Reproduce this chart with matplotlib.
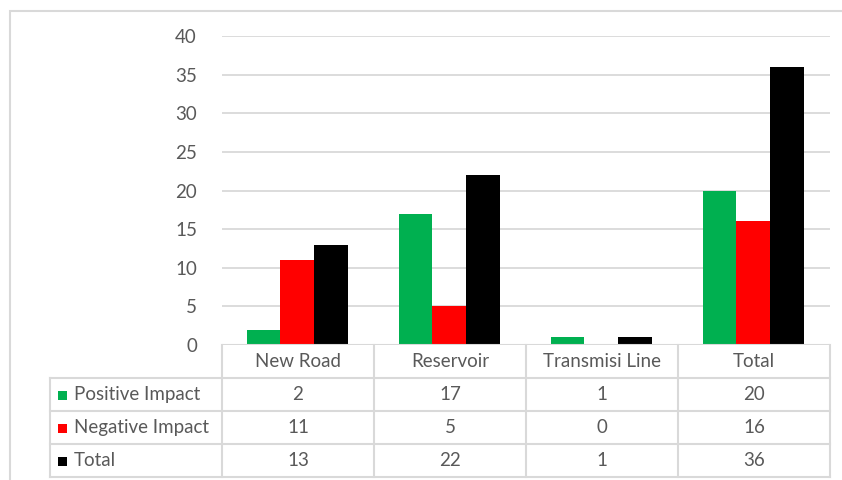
import numpy as np
import matplotlib.pyplot as plt
from matplotlib.patches import Rectangle

categories = ["New Road", "Reservoir", "Transmisi Line", "Total"]
series_names = ["Positive Impact", "Negative Impact", "Total"]
positive = [2, 17, 1, 20]
negative = [11, 5, 0, 16]
total = [13, 22, 1, 36]
series_values = [positive, negative, total]
colors = ["#00b050", "#ff0000", "#000000"]
yticks = [0, 5, 10, 15, 20, 25, 30, 35, 40]

W, H = 842, 480
plt.rcParams['font.family'] = ['Lato', 'DejaVu Sans']
txt = "#595959"
grid = "#d9d9d9"
fs = 13.5

fig = plt.figure(figsize=(W / 100, H / 100), dpi=100)

def fx(px):
    return px / W

def fy(py):
    return 1 - py / H

# plot area in pixel terms
x0, x1 = 222, 830
y_top, y_zero = 36, 345
ax = fig.add_axes([fx(x0), fy(y_zero), fx(x1) - fx(x0), fy(y_top) - fy(y_zero)])

n = len(categories)
bw = 0.222
x = np.arange(n)
for i, (vals, c) in enumerate(zip(series_values, colors)):
    ax.bar(x + (i - 1) * bw - 0.005, vals, width=bw, color=c, zorder=3)

ax.set_xlim(-0.5, n - 0.5)
ax.set_ylim(0, 40)
ax.set_yticks(yticks)
ax.set_yticklabels([str(t) for t in yticks], color=txt, fontsize=fs)
ax.tick_params(axis='y', length=0, pad=18)
ax.set_xticks([])
ax.grid(axis='y', color=grid, linewidth=1.3, zorder=0)
for s in ax.spines.values():
    s.set_visible(False)
ax.axhline(0, color=grid, linewidth=1.5, zorder=4)

# outer chart border
fig.patches.append(Rectangle((fx(10), fy(500)), fx(900), fy(11) - fy(500),
                             transform=fig.transFigure, fill=False,
                             edgecolor=grid, linewidth=1.5))

# data table under the axis
col_edges = [x0 + (x1 - x0) * k / n for k in range(n + 1)]
row_edges = [345, 378, 411, 444, 477]
lw = 1.5
for cx in col_edges:
    fig.add_artist(plt.Line2D([fx(cx), fx(cx)], [fy(345), fy(477)],
                              color=grid, linewidth=lw))
fig.add_artist(plt.Line2D([fx(50), fx(50)], [fy(378), fy(477)], color=grid, linewidth=lw))
for ry in row_edges[1:]:
    fig.add_artist(plt.Line2D([fx(50), fx(x1)], [fy(ry), fy(ry)], color=grid, linewidth=lw))

for k, cat in enumerate(categories):
    cx = (col_edges[k] + col_edges[k + 1]) / 2
    fig.text(fx(cx), fy((row_edges[0] + row_edges[1]) / 2), cat, ha='center',
             va='center', color=txt, fontsize=fs)

for r, (name, vals, c) in enumerate(zip(series_names, series_values, colors)):
    cy = (row_edges[r + 1] + row_edges[r + 2]) / 2
    fig.patches.append(Rectangle((fx(58), fy(cy + 5)), fx(9), fy(cy - 4) - fy(cy + 5),
                                 transform=fig.transFigure, facecolor=c, edgecolor='none'))
    fig.text(fx(74), fy(cy), name, ha='left', va='center', color=txt, fontsize=fs)
    for k, v in enumerate(vals):
        cx = (col_edges[k] + col_edges[k + 1]) / 2
        fig.text(fx(cx), fy(cy), str(v), ha='center', va='center', color=txt, fontsize=fs)

fig.savefig("out.png", dpi=100, facecolor='white')
